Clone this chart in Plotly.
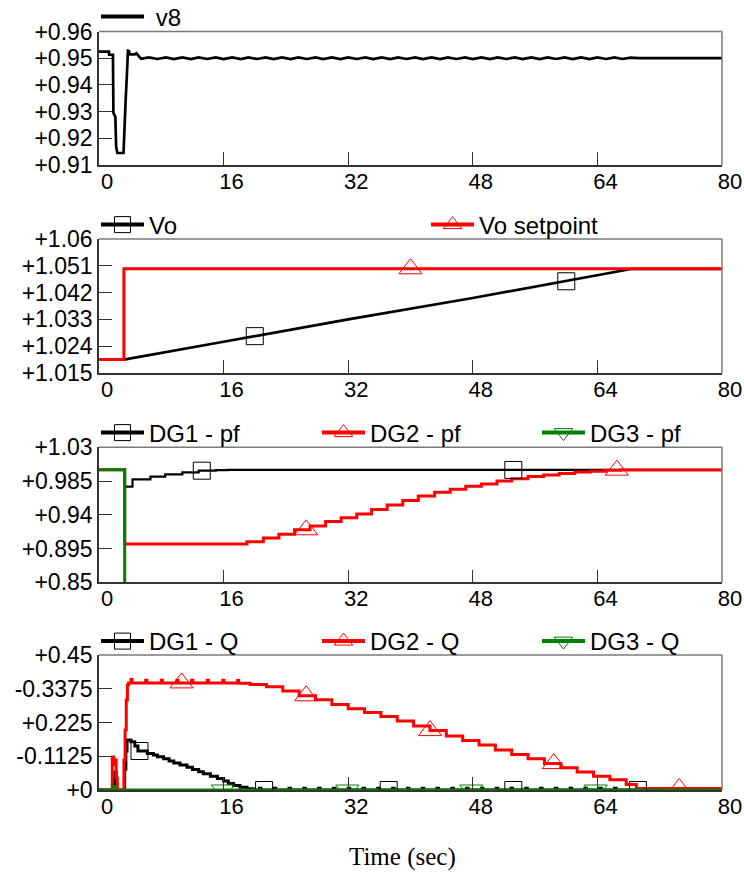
import numpy as np
import plotly.graph_objects as go

W, H = 744, 873

# ---------------- data ----------------
x_ticks = [0, 16, 32, 48, 64, 80]
x_ticktext = ["0", "16", "32", "48", "64", "80"]

# Panel 1 : v8
v8_head_t = [0, 1.28, 1.3, 1.79, 1.85, 2.1, 2.2, 2.35, 3.15, 3.25, 3.42, 3.6, 3.72, 3.85, 3.95, 4.6, 4.8, 5.4]
v8_head_v = [0.9525, 0.9525, 0.9513, 0.9513, 0.9295, 0.928, 0.917, 0.9145, 0.9145, 0.925, 0.934, 0.945,
             0.9528, 0.9527, 0.9514, 0.9514, 0.9518, 0.9498]
v8_ripple_t = [6.4, 7.5, 8.6, 9.6, 10.7, 11.8, 12.8, 13.9, 15.0, 16.0,
               17.1, 18.2, 19.2, 20.3, 21.4, 22.4, 23.5, 24.6, 25.6, 26.7,
               27.8, 28.8, 29.9, 31.0, 32.0, 33.1, 34.2, 35.2, 36.3, 37.4,
               38.4, 39.5, 40.6, 41.6, 42.7, 43.8, 44.8, 45.9, 47.0, 48.0,
               49.1, 50.2, 51.2, 52.3, 53.4, 54.4, 55.5, 56.6, 57.6, 58.7,
               59.8, 60.8, 61.9, 63.0, 64.0, 65.1, 66.2, 67.2, 68.3]
v8_ripple_v = [0.9503, 0.9497, 0.9503, 0.9497, 0.9503, 0.9497, 0.9503, 0.9497, 0.9503, 0.9497,
               0.9503, 0.9497, 0.9503, 0.9497, 0.9503, 0.9497, 0.9503, 0.9497, 0.9503, 0.9497,
               0.9503, 0.9497, 0.9503, 0.9497, 0.9503, 0.9497, 0.9503, 0.9497, 0.9503, 0.9497,
               0.9503, 0.9497, 0.9503, 0.9497, 0.9503, 0.9497, 0.9503, 0.9497, 0.9503, 0.9497,
               0.9503, 0.9497, 0.9503, 0.9497, 0.9503, 0.9497, 0.9503, 0.9497, 0.9503, 0.9497,
               0.9503, 0.9497, 0.9503, 0.9497, 0.9503, 0.9497, 0.9503, 0.9497, 0.9502]
v8_tail_t = [69.3, 80]
v8_tail_v = [0.9500, 0.9500]
v8_yticks = [0.91, 0.92, 0.93, 0.94, 0.95, 0.96]
v8_yticktext = ["+0.91", "+0.92", "+0.93", "+0.94", "+0.95", "+0.96"]

# Panel 2 : Vo and setpoint
vo_t = [0, 3.2, 16, 32, 48, 60, 68.5, 80]
vo_v = [1.0195, 1.0195, 1.0255, 1.0330, 1.0402, 1.0458, 1.0500, 1.0500]
vo_marker_t = [20, 60]
vosp_t = [0, 3.2, 80]
vosp_v = [1.0195, 1.0500, 1.0500]
vosp_marker_t = [40]
vo_yticks = [1.015, 1.024, 1.033, 1.042, 1.051, 1.06]
vo_yticktext = ["+1.015", "+1.024", "+1.033", "+1.042", "+1.051", "+1.06"]

# Panel 3 : power factors (stepwise)
dg1pf_t = [0, 3.3, 4.3, 6.6, 8.5, 10.7, 12.8, 15.0, 16.5, 80]
dg1pf_v = [1.0, 0.9776, 0.9873, 0.9908, 0.994, 0.9967, 0.9988, 0.9995, 0.9998, 0.9998]
dg1pf_marker_t = [13.2, 53.2]
dg2pf_t = [0, 3.3, 19.0, 21.1, 23.1, 25.1, 27.1, 29.1, 31.1, 33.1,
           35.0, 37.0, 39.0, 41.0, 43.1, 45.1, 47.1, 49.1, 51.1, 53.0,
           55.1, 57.1, 59.1, 61.1, 63.1, 65.0, 67.0, 80]
dg2pf_v = [1.0, 0.901, 0.904, 0.909, 0.914, 0.920, 0.925, 0.931, 0.936, 0.941,
           0.947, 0.953, 0.959, 0.965, 0.970, 0.974, 0.978, 0.981, 0.985, 0.988,
           0.991, 0.993, 0.995, 0.997, 0.998, 0.9995, 0.9998, 0.9998]
dg2pf_marker_t = [26.6, 66.5]
dg3pf_t = [0, 3.3, 80]
dg3pf_v = [1.0, 0.0, 0.0]
dg3pf_marker_t = [39.8, 79.8]
pf_yticks = [0.85, 0.895, 0.94, 0.985, 1.03]
pf_yticktext = ["+0.85", "+0.895", "+0.94", "+0.985", "+1.03"]

# Panel 4 : reactive powers (stepwise)
dg1q_t = [0, 1.95, 2.05, 2.2, 2.3, 3.3, 3.45, 3.6, 4.1, 4.6, 5.0, 6.2, 7.0, 7.5, 8.3, 9.0, 9.6,
          10.4, 11.3, 12.0, 12.8, 13.4, 14.3, 15.2, 16.0, 16.6, 17.3, 18.1, 19.0, 19.8]
dg1q_v = [0, 0.035, 0.06, 0.02, 0, 0.07, 0.13, 0.167, 0.161, 0.147, 0.130, 0.122, 0.117, 0.111,
          0.104, 0.097, 0.090, 0.083, 0.076, 0.068, 0.061, 0.054, 0.046, 0.038, 0.030, 0.022,
          0.015, 0.009, 0.004, 0.0]
dg1q_blip_t = [20.6, 22.5, 24.4, 26.3, 28.2, 30.1, 32.0, 33.9, 35.8, 37.7, 39.6, 41.5, 43.4,
               45.3, 47.2, 49.1, 51.0, 52.9, 54.8, 56.7, 58.6, 60.5, 62.4, 64.3, 66.2]
dg1q_blip_v = 0.006
dg1q_marker_t = [5.2, 21.2, 37.2, 53.2, 69.2]

dg2q_t = [0, 1.7, 1.9, 2.05, 2.2, 2.35, 3.2, 3.35, 3.5, 3.65, 3.8,
          4.1, 4.25, 6.0, 6.15, 8.0, 8.15, 10.0, 10.15, 11.9, 12.05, 13.9, 14.05,
          15.9, 16.05, 17.8, 17.95, 19.4, 21.5, 23.6, 25.7, 27.8, 29.9, 32.0, 34.1,
          36.2, 38.3, 40.4, 42.5, 44.6, 46.7, 48.8, 50.9, 53.0, 55.1, 57.2, 59.3,
          61.4, 63.5, 65.6, 67.7, 69.0, 80]
dg2q_v = [0, 0.11, 0.085, 0.10, 0.04, 0, 0.10, 0.20, 0.30, 0.35, 0.357,
          0.368, 0.357, 0.366, 0.357, 0.366, 0.357, 0.366, 0.357, 0.366, 0.357, 0.366, 0.357,
          0.366, 0.357, 0.365, 0.356, 0.352, 0.344, 0.330, 0.314, 0.301, 0.285, 0.271, 0.258,
          0.245, 0.230, 0.213, 0.198, 0.180, 0.165, 0.150, 0.133, 0.118, 0.104, 0.088, 0.074,
          0.060, 0.046, 0.034, 0.018, 0.005, 0.005]
dg2q_marker_t = [10.6, 26.6, 42.5, 58.4, 74.5]

dg3q_t = [0, 1.8, 2.0, 80]
dg3q_v = [0, 0.012, 0, 0]
dg3q_marker_t = [15.9, 31.9, 47.8, 63.8]

q_yticks = [0, 0.1125, 0.225, 0.3375, 0.45]
q_yticktext = ["+0", "-0.1125", "+0.225", "-0.3375", "+0.45"]

# ---------------- styling ----------------
BLACK, RED, GREEN = "#000000", "#ff0000", "#008000"
FONT = "Liberation Sans, Arial, sans-serif"
LEFT, RIGHT = 99, 722
panels = [  # (top px, bottom px, legend row px)
    (31.5, 165.0, 17.0),
    (239.0, 373.0, 225.0),
    (447.3, 582.3, 433.0),
    (655.0, 790.0, 641.5),
]
yranges = [(0.91, 0.96), (1.015, 1.06), (0.85, 1.03), (0.0, 0.45)]
yticks = [(v8_yticks, v8_yticktext), (vo_yticks, vo_yticktext),
          (pf_yticks, pf_yticktext), (q_yticks, q_yticktext)]
MSIZE = {"square-open": 17, "triangle-up-open": 20, "triangle-down-open": 20}


def sfx(i):
    return "" if i == 1 else str(i)


def step_lookup(t, v, tm):
    t = np.asarray(t, float)
    v = np.asarray(v, float)
    idx = np.searchsorted(t, np.asarray(tm, float), side="right") - 1
    return v[np.clip(idx, 0, len(v) - 1)]


fig = go.Figure()
legend_defs = []  # (legend id, panel, line-start px)


def add_line(panel, t, v, color, width, shape):
    fig.add_trace(go.Scatter(x=t, y=v, mode="lines", line=dict(color=color, width=width, shape=shape),
                             xaxis=f"x{sfx(panel)}", yaxis=f"y{sfx(panel)}", showlegend=False,
                             hoverinfo="skip"))


def add_markers(panel, tm, ym, color, symbol):
    fig.add_trace(go.Scatter(x=tm, y=ym, mode="markers",
                             marker=dict(symbol=symbol, size=MSIZE[symbol], color=color,
                                         line=dict(color=color, width=1)),
                             xaxis=f"x{sfx(panel)}", yaxis=f"y{sfx(panel)}", showlegend=False,
                             hoverinfo="skip"))


def add_legend(panel, name, color, symbol, xpx):
    lid = f"legend{len(legend_defs) + 2}"
    legend_defs.append((lid, panel, xpx))
    if symbol is None:
        marker = dict(symbol="square", size=17, color="rgba(0,0,0,0)",
                      line=dict(width=0, color="rgba(0,0,0,0)"))
    else:
        marker = dict(symbol=symbol, size=MSIZE[symbol], color=color, line=dict(color=color, width=1))
    fig.add_trace(go.Scatter(x=[None], y=[None], name=name, mode="lines+markers",
                             line=dict(color=color, width=4), marker=marker,
                             xaxis=f"x{sfx(panel)}", yaxis=f"y{sfx(panel)}", legend=lid,
                             showlegend=True))


# Panel 1
v8_t = v8_head_t + v8_ripple_t + v8_tail_t
v8_v = v8_head_v + v8_ripple_v + v8_tail_v
add_line(1, v8_t, v8_v, BLACK, 2.7, "linear")
add_legend(1, "\u00a0v8", BLACK, None, 99)

# Panel 2
add_line(2, vo_t, vo_v, BLACK, 2.7, "linear")
add_line(2, vosp_t, vosp_v, RED, 3, "hv")
add_markers(2, vo_marker_t, np.interp(vo_marker_t, vo_t, vo_v), BLACK, "square-open")
add_markers(2, vosp_marker_t, step_lookup(vosp_t, vosp_v, vosp_marker_t), RED, "triangle-up-open")
add_legend(2, "Vo", BLACK, "square-open", 99)
add_legend(2, "Vo setpoint", RED, "triangle-up-open", 429)

# Panel 3
add_line(3, dg1pf_t, dg1pf_v, BLACK, 2.2, "hv")
add_line(3, dg2pf_t, dg2pf_v, RED, 3, "hv")
add_line(3, dg3pf_t, dg3pf_v, GREEN, 3, "hv")
add_markers(3, dg1pf_marker_t, step_lookup(dg1pf_t, dg1pf_v, dg1pf_marker_t), BLACK, "square-open")
add_markers(3, dg2pf_marker_t, step_lookup(dg2pf_t, dg2pf_v, dg2pf_marker_t), RED, "triangle-up-open")
add_markers(3, dg3pf_marker_t, step_lookup(dg3pf_t, dg3pf_v, dg3pf_marker_t), GREEN, "triangle-down-open")
add_legend(3, "DG1 - pf", BLACK, "square-open", 99)
add_legend(3, "DG2 - pf", RED, "triangle-up-open", 320)
add_legend(3, "DG3 - pf", GREEN, "triangle-down-open", 540)

# Panel 4
q1_t = list(dg1q_t)
q1_v = list(dg1q_v)
for bt in dg1q_blip_t:
    q1_t += [bt, bt + 0.2]
    q1_v += [dg1q_blip_v, 0.0]
q1_t.append(80)
q1_v.append(0.0)
add_line(4, q1_t, q1_v, BLACK, 3, "hv")
add_line(4, dg2q_t, dg2q_v, RED, 3, "hv")
add_line(4, dg3q_t, dg3q_v, GREEN, 3, "hv")
add_markers(4, dg1q_marker_t, step_lookup(q1_t, q1_v, dg1q_marker_t), BLACK, "square-open")
add_markers(4, dg2q_marker_t, step_lookup(dg2q_t, dg2q_v, dg2q_marker_t), RED, "triangle-up-open")
add_markers(4, dg3q_marker_t, step_lookup(dg3q_t, dg3q_v, dg3q_marker_t), GREEN, "triangle-down-open")
add_legend(4, "DG1 - Q", BLACK, "square-open", 99)
add_legend(4, "DG2 - Q", RED, "triangle-up-open", 320)
add_legend(4, "DG3 - Q", GREEN, "triangle-down-open", 540)

layout = dict(
    width=W, height=H, autosize=False, showlegend=True,
    margin=dict(l=0, r=0, t=0, b=0, autoexpand=False),
    paper_bgcolor="white", plot_bgcolor="white",
    font=dict(family=FONT, size=22, color="black"),
)

shapes = []
for i, (top, bot, lrow) in enumerate(panels, start=1):
    s = sfx(i)
    layout[f"xaxis{s}"] = dict(
        domain=[LEFT / W, RIGHT / W], range=[0, 80], anchor=f"y{s}",
        tickmode="array", tickvals=x_ticks, ticktext=x_ticktext,
        ticks="inside", ticklen=13, tickwidth=1.2, tickcolor="#333",
        showline=True, linecolor="#333", linewidth=1.5,
        showgrid=False, zeroline=False, ticklabelshift=8, ticklabelstandoff=-4,
        ticklabeloverflow="allow",
        tickfont=dict(family=FONT, size=22, color="black"), fixedrange=True,
    )
    tv, tt = yticks[i - 1]
    layout[f"yaxis{s}"] = dict(
        domain=[1 - bot / H, 1 - top / H], range=list(yranges[i - 1]), anchor=f"x{s}",
        tickmode="array", tickvals=tv, ticktext=tt,
        ticks="inside", ticklen=13, tickwidth=1.2, tickcolor="#333",
        showline=True, linecolor="#333", linewidth=1.5,
        showgrid=False, zeroline=False, ticklabeloverflow="allow",
        tickfont=dict(family=FONT, size=23, color="black"), fixedrange=True,
    )
    shapes.append(dict(type="line", xref=f"x{s} domain", yref=f"y{s} domain", x0=0, x1=1, y0=1, y1=1,
                       line=dict(color="#7a7a7a", width=1.5)))
    shapes.append(dict(type="line", xref=f"x{s} domain", yref=f"y{s} domain", x0=1, x1=1, y0=0, y1=1,
                       line=dict(color="#7a7a7a", width=1.5)))

for lid, panel, xpx in legend_defs:
    lrow = panels[panel - 1][2]
    layout[lid] = dict(
        orientation="h", x=(xpx - 3) / W, xanchor="left", y=1 - lrow / H, yanchor="middle",
        bgcolor="rgba(0,0,0,0)", borderwidth=0, font=dict(family=FONT, size=24, color="black"),
        itemwidth=43, itemsizing="trace",
    )

layout["shapes"] = shapes
layout["annotations"] = [dict(text="Time (sec)", x=402 / W, y=1 - 857 / H, xref="paper", yref="paper",
                              xanchor="center", yanchor="middle", showarrow=False,
                              font=dict(family="Liberation Serif, Times New Roman, serif", size=25,
                                        color="black"))]
fig.update_layout(**layout)
fig.write_html("out.html")
